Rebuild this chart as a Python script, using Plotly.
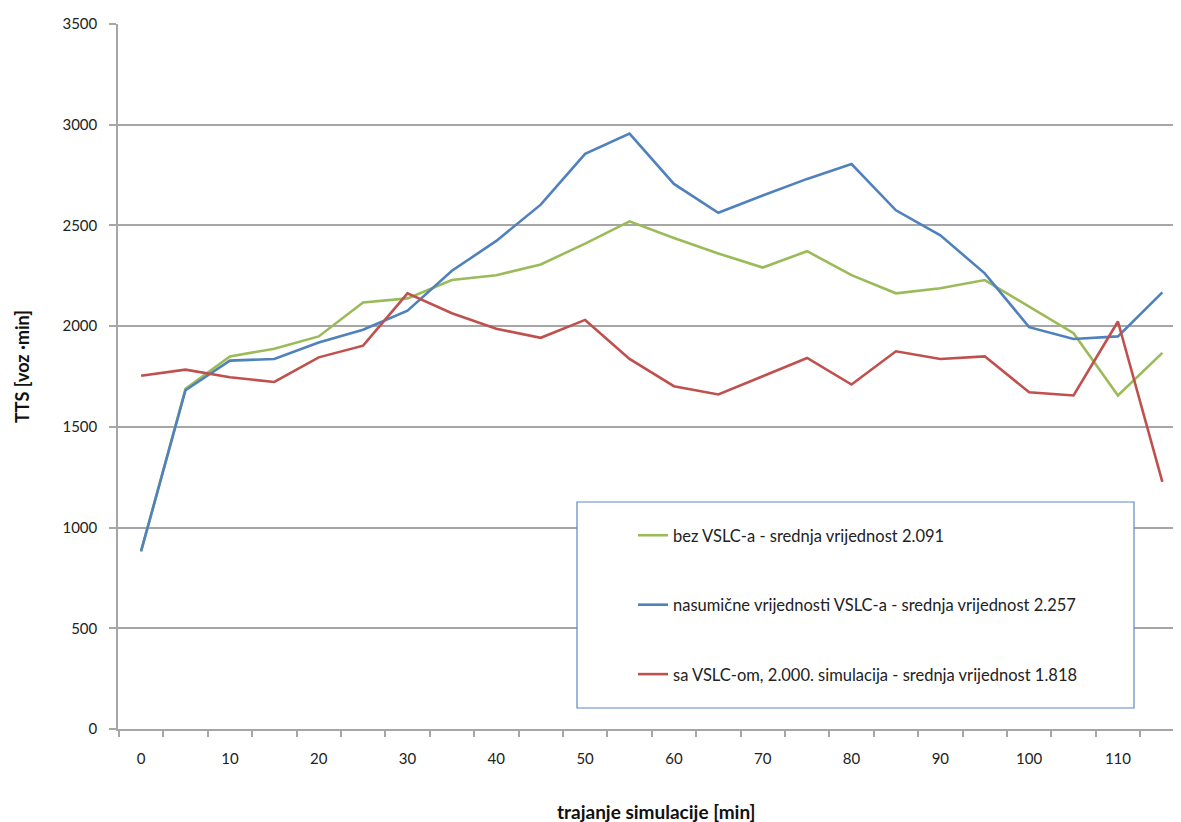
import plotly.graph_objects as go

minutes = [0, 5, 10, 15, 20, 25, 30, 35, 40, 45, 50, 55, 60, 65, 70, 75, 80, 85, 90, 95, 100, 105, 110, 115]

bez_vslc = [880, 1689, 1850, 1888, 1949, 2117, 2138, 2229, 2253, 2306, 2410, 2520,
            2438, 2361, 2291, 2372, 2253, 2163, 2188, 2229, 2097, 1965, 1656, 1867]
nasumicne = [884, 1682, 1829, 1837, 1919, 1982, 2077, 2275, 2423, 2603, 2855, 2956,
             2706, 2563, 2649, 2731, 2805, 2575, 2451, 2262, 1995, 1936, 1949, 2168]
sa_vslc = [1754, 1784, 1746, 1723, 1845, 1903, 2163, 2064, 1987, 1942, 2031, 1837,
           1702, 1661, 1751, 1842, 1710, 1875, 1837, 1850, 1672, 1656, 2023, 1227]

names = [
    "bez VSLC-a - srednja vrijednost 2.091",
    "nasumične vrijednosti VSLC-a - srednja vrijednost 2.257",
    "sa VSLC-om, 2.000. simulacija - srednja vrijednost 1.818",
]
colors = ["#9BBB59", "#4F81BD", "#C0504D"]
x_tick_vals = [0, 10, 20, 30, 40, 50, 60, 70, 80, 90, 100, 110]
y_tick_vals = [0, 500, 1000, 1500, 2000, 2500, 3000, 3500]

FONT = "Lato"
GRID = "#A6A6A6"

fig = go.Figure()
for i, (vals, nm, col) in enumerate(zip([bez_vslc, nasumicne, sa_vslc], names, colors)):
    fig.add_trace(go.Scatter(
        x=minutes, y=vals, mode="lines", name=nm,
        line=dict(color=col, width=2.6),
        legendgroup=f"g{i}",
    ))

OFF = 8  # page body margin
W, H = 1181 - OFF, 822 - OFF
ml, mt, mb, mr = 118 - OFF, 24 - OFF, 93, 0
pw, ph = W - ml - mr, H - mt - mb


def px(xp):
    return (xp - OFF - ml) / pw


def py(yp):
    return (H - mb - (yp - OFF)) / ph


fig.update_layout(
    width=W, height=H,
    margin=dict(l=ml, r=mr, t=mt, b=mb),
    paper_bgcolor="white", plot_bgcolor="white",
    font=dict(family=FONT, size=15, color="#222222"),
    showlegend=True,
    legend=dict(
        x=px(633), y=py(518), xanchor="left", yanchor="top",
        bgcolor="rgba(0,0,0,0)", borderwidth=0,
        font=dict(family=FONT, size=16.5, color="#222222"),
        tracegroupgap=45,
        itemwidth=30,
    ),
    shapes=[dict(
        type="rect", xref="paper", yref="paper",
        x0=px(577), x1=px(1134), y0=py(708), y1=py(502),
        line=dict(color="#5B87C5", width=1.2), fillcolor="white", layer="above",
    )],
    xaxis=dict(
        range=[-2.6, 117.1],
        tickmode="array", tickvals=x_tick_vals,
        ticks="", showgrid=False, zeroline=False,
        showline=True, linecolor=GRID, linewidth=1.5,
        ticklabelstandoff=15,
        tickfont=dict(family=FONT, size=15, color="#222222"),
        minor=dict(ticks="outside", tick0=2.5, dtick=5, ticklen=6,
                   tickcolor=GRID, tickwidth=1.5, showgrid=False),
    ),
    yaxis=dict(
        range=[0, 3500],
        tickmode="array", tickvals=y_tick_vals,
        ticks="outside", ticklen=7, tickcolor=GRID, tickwidth=1.5,
        showgrid=True, gridcolor=GRID, gridwidth=1.5,
        zeroline=False,
        showline=True, linecolor=GRID, linewidth=1.5,
        ticklabelstandoff=9,
        tickfont=dict(family=FONT, size=15, color="#222222"),
    ),
    annotations=[
        dict(text="<b>trajanje simulacije [min]</b>", xref="paper", yref="paper",
             x=px(656), y=py(811), xanchor="center", yanchor="middle",
             showarrow=False, font=dict(family=FONT, size=19, color="#111111")),
        dict(text="<b>TTS [voz ·min]</b>", xref="paper", yref="paper",
             x=px(22), y=py(367), xanchor="center", yanchor="middle", textangle=-90,
             showarrow=False, font=dict(family=FONT, size=18, color="#111111")),
    ],
)

fig.write_html("out.html")
